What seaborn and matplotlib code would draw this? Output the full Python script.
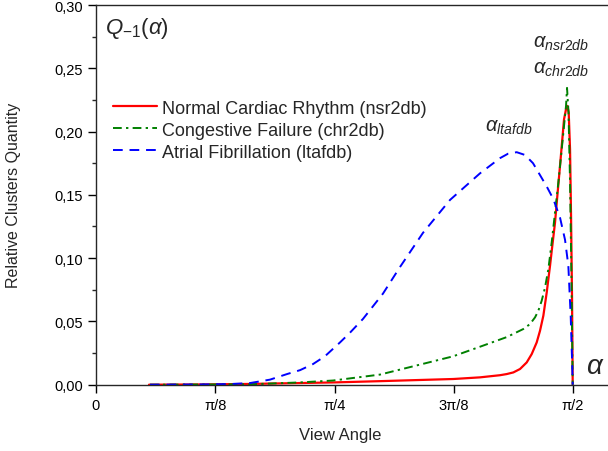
import matplotlib
matplotlib.use("Agg")

import matplotlib.pyplot as plt
import numpy as np
import seaborn as sns
from matplotlib.ticker import FuncFormatter, MultipleLocator

# ── Data ───────────────────────────────────────────────────────────────

nsr_x = [0.1745, 0.3425, 0.5071, 0.7838, 0.9353, 1.1767, 1.2645, 1.3304,
         1.3524, 1.3743, 1.3963, 1.4183, 1.4348, 1.4512, 1.4621, 1.4731,
         1.4842, 1.4951, 1.5039, 1.5115, 1.5191, 1.5280, 1.5356, 1.5412,
         1.5478, 1.5522, 1.5566, 1.5610, 1.5643, 1.5676, 1.5698]
nsr_y = [0.0, 0.0002, 0.0006, 0.0018, 0.0028, 0.0045, 0.0058, 0.0075,
         0.0084, 0.0097, 0.0124, 0.0176, 0.0242, 0.0334, 0.0426, 0.0545,
         0.0729, 0.094, 0.1124, 0.128, 0.149, 0.173, 0.194, 0.2097,
         0.2177, 0.2203, 0.215, 0.186, 0.1334, 0.0676, 0.0]

chr_x = [0.178, 0.507, 0.6718, 0.7805, 0.9353, 1.0439, 1.1756, 1.2645,
         1.3524, 1.4072, 1.4292, 1.4457, 1.4566, 1.4676, 1.4786, 1.4896,
         1.5006, 1.5115, 1.5225, 1.5336, 1.5412, 1.5478, 1.5511, 1.5560,
         1.5610, 1.5659, 1.5698]
chr_y = [0.0, 0.0003, 0.0018, 0.0033, 0.0080, 0.0145, 0.0224, 0.030,
         0.0376, 0.044, 0.0479, 0.0532, 0.0584, 0.0663, 0.0768, 0.0913,
         0.1124, 0.136, 0.1597, 0.186, 0.2045, 0.2203, 0.2345, 0.215,
         0.16, 0.08, 0.0]

ltaf_x = [0.1778, 0.3425, 0.441, 0.5071, 0.573, 0.629, 0.672, 0.7146,
          0.754, 0.8035, 0.836, 0.8793, 0.9451, 1.0011, 1.0768, 1.1658,
          1.2645, 1.3304, 1.3568, 1.3854, 1.4127, 1.4391, 1.4842, 1.5061,
          1.5280, 1.5445, 1.5554, 1.5632, 1.5676, 1.5698]
ltaf_y = [0.0, 0.0002, 0.0005, 0.0013, 0.004, 0.0084, 0.0115, 0.0163,
          0.0225, 0.0334, 0.041, 0.052, 0.072, 0.093, 0.12, 0.146,
          0.167, 0.179, 0.1825, 0.1837, 0.1815, 0.175, 0.1566, 0.1466,
          0.132, 0.1145, 0.094, 0.054, 0.020, 0.0]

x_ticks = [0, np.pi / 8, np.pi / 4, 3 * np.pi / 8, np.pi / 2]
x_tick_labels = ["0", "π/8", "π/4", "3π/8", "π/2"]
y_ticks = [0.0, 0.05, 0.10, 0.15, 0.20, 0.25, 0.30]

# ── Style ──────────────────────────────────────────────────────────────

sns.set_style("ticks")
plt.rcParams["font.family"] = ["Liberation Sans", "DejaVu Sans"]
plt.rcParams["mathtext.fontset"] = "custom"
plt.rcParams["mathtext.rm"] = "Liberation Sans"
plt.rcParams["mathtext.it"] = "Liberation Sans:italic"
plt.rcParams["axes.linewidth"] = 1.0

fig = plt.figure(figsize=(6.08, 4.52), dpi=100)
ax = fig.add_axes([96 / 608, 1 - 385.7 / 452, 1 - 96 / 608, (385.7 - 6) / 452])

sns.lineplot(x=nsr_x, y=nsr_y, ax=ax, color="#ff0000", lw=1.6, sort=False,
             estimator=None, label="Normal Cardiac Rhythm (nsr2db)")
sns.lineplot(x=chr_x, y=chr_y, ax=ax, color="#008000", lw=1.4, sort=False,
             estimator=None, linestyle=(0, (4.5, 2.2, 1.2, 2.2)),
             label="Congestive Failure (chr2db)")
sns.lineplot(x=ltaf_x, y=ltaf_y, ax=ax, color="#0000ff", lw=1.4, sort=False,
             estimator=None, linestyle=(0, (5, 3.5)),
             label="Atrial Fibrillation (ltafdb)")

ax.set_xlim(0, 1.686)
ax.set_ylim(0, 0.30)
ax.set_xticks(x_ticks)
ax.set_xticklabels(x_tick_labels)
ax.set_yticks(y_ticks)
ax.yaxis.set_minor_locator(MultipleLocator(0.025))
ax.yaxis.set_major_formatter(FuncFormatter(lambda v, p: f"{v:.2f}".replace(".", ",")))
ax.tick_params(axis="both", which="major", direction="out", length=6,
               width=1, labelsize=10.5, colors="black")
ax.tick_params(axis="y", which="minor", direction="out", length=3, width=1)
ax.spines["right"].set_visible(False)
ax.spines["top"].set_visible(True)

ax.set_xlabel("View Angle", fontsize=12)
ax.set_ylabel("Relative Clusters Quantity", fontsize=11.5)
ax.xaxis.set_label_coords(0.477, -0.112)
ax.yaxis.set_label_coords(-0.146, 0.5)

ax.legend(loc="upper left", bbox_to_anchor=(0.02, 0.77), frameon=False,
          fontsize=13, handlelength=2.4, handletextpad=0.3,
          labelspacing=0.28, borderaxespad=0)

ax.text(0.017, 0.94, r"$Q_{\mathit{-1}}(\alpha)$", transform=ax.transAxes,
        fontsize=16, va="center", ha="left")
ax.text(1.439, 0.270, r"$\alpha_{nsr2db}$", fontsize=14.5, va="center")
ax.text(1.439, 0.250, r"$\alpha_{chr2db}$", fontsize=14.5, va="center")
ax.text(1.282, 0.204, r"$\alpha_{ltafdb}$", fontsize=14.5, va="center")
ax.text(1.615, 0.015, r"$\alpha$", fontsize=20, va="center")

fig.savefig("out.png", dpi=100)
